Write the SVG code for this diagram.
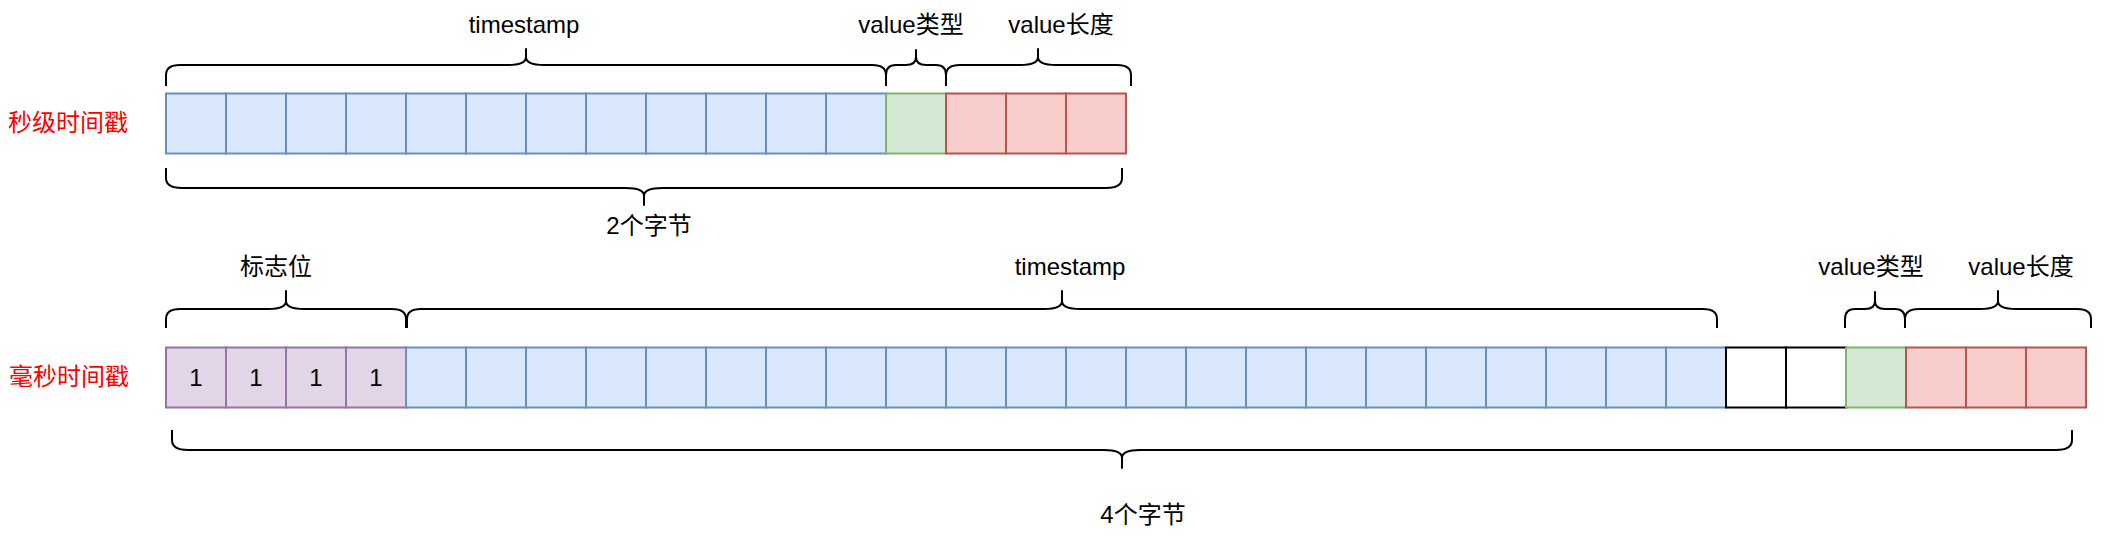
<svg xmlns="http://www.w3.org/2000/svg" width="2112" height="542" viewBox="0 0 2112 542">
<style>
text{font-family:"Liberation Sans","Noto Sans CJK SC",sans-serif;font-size:24px;fill:#000}
.c{text-anchor:middle}
.lbl{fill:#ff0000;text-anchor:middle}
rect{stroke-width:2}
.b{fill:#dae8fc;stroke:#6c8ebf}
.g{fill:#d5e8d4;stroke:#82b366}
.r{fill:#f8cecc;stroke:#b85450}
.p{fill:#e1d5e7;stroke:#9673a6}
.w{fill:#ffffff;stroke:#000000}
.br{fill:none;stroke:#000;stroke-width:2;stroke-linejoin:round}
</style>
<rect x="0" y="0" width="2112" height="542" fill="#ffffff"/>

<!-- Row 1: 秒级时间戳 -->
<g id="row1-label"><text class="lbl" x="68" y="131">秒级时间戳</text></g>
<g id="row1-timestamp">
<rect class="b" x="166" y="93.5" width="60" height="60"/>
<rect class="b" x="226" y="93.5" width="60" height="60"/>
<rect class="b" x="286" y="93.5" width="60" height="60"/>
<rect class="b" x="346" y="93.5" width="60" height="60"/>
<rect class="b" x="406" y="93.5" width="60" height="60"/>
<rect class="b" x="466" y="93.5" width="60" height="60"/>
<rect class="b" x="526" y="93.5" width="60" height="60"/>
<rect class="b" x="586" y="93.5" width="60" height="60"/>
<rect class="b" x="646" y="93.5" width="60" height="60"/>
<rect class="b" x="706" y="93.5" width="60" height="60"/>
<rect class="b" x="766" y="93.5" width="60" height="60"/>
<rect class="b" x="826" y="93.5" width="60" height="60"/>
</g>
<g id="row1-valuetype"><rect class="g" x="886" y="93.5" width="60" height="60"/></g>
<g id="row1-valuelen">
<rect class="r" x="946" y="93.5" width="60" height="60"/>
<rect class="r" x="1006" y="93.5" width="60" height="60"/>
<rect class="r" x="1066" y="93.5" width="60" height="60"/>
</g>

<!-- Row 2: 毫秒时间戳 -->
<g id="row2-label"><text class="lbl" x="69" y="385">毫秒时间戳</text></g>
<g id="row2-flags">
<rect class="p" x="166" y="347.5" width="60" height="60"/>
<rect class="p" x="226" y="347.5" width="60" height="60"/>
<rect class="p" x="286" y="347.5" width="60" height="60"/>
<rect class="p" x="346" y="347.5" width="60" height="60"/>
<text class="c" x="196" y="386">1</text>
<text class="c" x="256" y="386">1</text>
<text class="c" x="316" y="386">1</text>
<text class="c" x="376" y="386">1</text>
</g>
<g id="row2-timestamp">
<rect class="b" x="406" y="347.5" width="60" height="60"/>
<rect class="b" x="466" y="347.5" width="60" height="60"/>
<rect class="b" x="526" y="347.5" width="60" height="60"/>
<rect class="b" x="586" y="347.5" width="60" height="60"/>
<rect class="b" x="646" y="347.5" width="60" height="60"/>
<rect class="b" x="706" y="347.5" width="60" height="60"/>
<rect class="b" x="766" y="347.5" width="60" height="60"/>
<rect class="b" x="826" y="347.5" width="60" height="60"/>
<rect class="b" x="886" y="347.5" width="60" height="60"/>
<rect class="b" x="946" y="347.5" width="60" height="60"/>
<rect class="b" x="1006" y="347.5" width="60" height="60"/>
<rect class="b" x="1066" y="347.5" width="60" height="60"/>
<rect class="b" x="1126" y="347.5" width="60" height="60"/>
<rect class="b" x="1186" y="347.5" width="60" height="60"/>
<rect class="b" x="1246" y="347.5" width="60" height="60"/>
<rect class="b" x="1306" y="347.5" width="60" height="60"/>
<rect class="b" x="1366" y="347.5" width="60" height="60"/>
<rect class="b" x="1426" y="347.5" width="60" height="60"/>
<rect class="b" x="1486" y="347.5" width="60" height="60"/>
<rect class="b" x="1546" y="347.5" width="60" height="60"/>
<rect class="b" x="1606" y="347.5" width="60" height="60"/>
<rect class="b" x="1666" y="347.5" width="60" height="60"/>
</g>
<g id="row2-empty">
<rect class="w" x="1726" y="347.5" width="60" height="60"/>
<rect class="w" x="1786" y="347.5" width="60" height="60"/>
</g>
<g id="row2-valuetype"><rect class="g" x="1846" y="347.5" width="60" height="60"/></g>
<g id="row2-valuelen">
<rect class="r" x="1906" y="347.5" width="60" height="60"/>
<rect class="r" x="1966" y="347.5" width="60" height="60"/>
<rect class="r" x="2026" y="347.5" width="60" height="60"/>
</g>

<!-- Braces -->
<g id="braces">
<path class="br" d="M166 86 V75 Q166 65 180 65 H508 Q526 65 526 57 V49 V57 Q526 65 544 65 H872 Q886 65 886 75 V86"/>
<path class="br" d="M886 86 V75 Q886 65 896 65 H906 Q916 65 916 57 V50 V57 Q916 65 926 65 H936 Q946 65 946 75 V86"/>
<path class="br" d="M946 86 V75 Q946 65 960 65 H1020 Q1038 65 1038 57 V49 V57 Q1038 65 1056 65 H1117 Q1131 65 1131 75 V86"/>
<path class="br" d="M166 168 V178 Q166 188 182 188 H626 Q644 188 644 196 V205 V196 Q644 188 662 188 H1106 Q1122 188 1122 178 V168"/>
<path class="br" d="M166 328 V319 Q166 309 180 309 H268 Q286 309 286 301 V291 V301 Q286 309 304 309 H392 Q406 309 406 319 V328"/>
<path class="br" d="M407 328 V319 Q407 309 421 309 H1044 Q1062 309 1062 301 V291 V301 Q1062 309 1080 309 H1703 Q1717 309 1717 319 V328"/>
<path class="br" d="M1845 328 V319 Q1845 309 1855 309 H1865 Q1875 309 1875 301 V292 V301 Q1875 309 1885 309 H1895 Q1905 309 1905 319 V328"/>
<path class="br" d="M1905 328 V319 Q1905 309 1919 309 H1980 Q1998 309 1998 301 V291 V301 Q1998 309 2016 309 H2077 Q2091 309 2091 319 V328"/>
<path class="br" d="M172 430 V440 Q172 450 188 450 H1104 Q1122 450 1122 458 V468 V458 Q1122 450 1140 450 H2056 Q2072 450 2072 440 V430"/>
</g>

<!-- Brace labels -->
<g id="labels">
<text class="c" x="524" y="33">timestamp</text>
<text class="c" x="911" y="33">value类型</text>
<text class="c" x="1061" y="33">value长度</text>
<text class="c" x="649" y="234">2个字节</text>
<text class="c" x="276" y="275">标志位</text>
<text class="c" x="1070" y="275">timestamp</text>
<text class="c" x="1871" y="275">value类型</text>
<text class="c" x="2021" y="275">value长度</text>
<text class="c" x="1143" y="523">4个字节</text>
</g>
</svg>
